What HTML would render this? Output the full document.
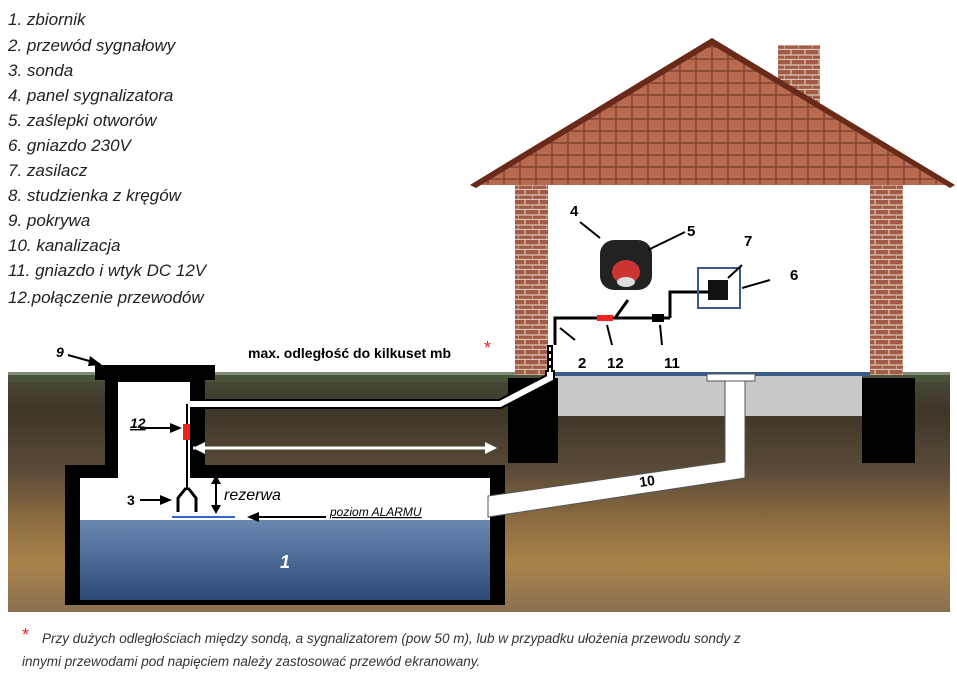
<!DOCTYPE html>
<html><head><meta charset="utf-8"><style>
body{margin:0;width:957px;height:686px;background:#fff;overflow:hidden;position:relative;font-family:"Liberation Sans",sans-serif}
.l{position:absolute;left:8px;font-style:italic;font-size:17px;color:#222}
</style></head><body>
<div class="l" style="top:10px">1. zbiornik</div>
<div class="l" style="top:36px">2. przewód sygnałowy</div>
<div class="l" style="top:61px">3. sonda</div>
<div class="l" style="top:86px">4. panel sygnalizatora</div>
<div class="l" style="top:111px">5. zaślepki otworów</div>
<div class="l" style="top:136px">6. gniazdo 230V</div>
<div class="l" style="top:161px">7. zasilacz</div>
<div class="l" style="top:186px">8. studzienka z kręgów</div>
<div class="l" style="top:211px">9. pokrywa</div>
<div class="l" style="top:236px">10. kanalizacja</div>
<div class="l" style="top:261px">11. gniazdo i wtyk DC 12V</div>
<div class="l" style="top:288px">12.połączenie przewodów</div>
<svg width="957" height="686" style="position:absolute;left:0;top:0">
<defs>
<linearGradient id="g" x1="0" y1="0" x2="0" y2="1">
<stop offset="0" stop-color="#4a4a3a"/><stop offset="0.15" stop-color="#3e3628"/><stop offset="0.4" stop-color="#5a4a38"/><stop offset="0.6" stop-color="#8a6a40"/><stop offset="0.8" stop-color="#a8844a"/><stop offset="1" stop-color="#8a7050"/></linearGradient>
<linearGradient id="w" x1="0" y1="0" x2="0" y2="1"><stop offset="0" stop-color="#6a88b0"/><stop offset="1" stop-color="#2c4a78"/></linearGradient>
<pattern id="br" width="14" height="10" patternUnits="userSpaceOnUse"><rect width="14" height="10" fill="#a45a44"/><path d="M0 9.5H14M7 0V5M0 5H14M0 5V10" stroke="#d8c8b8" stroke-width="1.2"/></pattern>
<pattern id="tl" width="16" height="12" patternUnits="userSpaceOnUse"><rect width="16" height="12" fill="#b86a50"/><path d="M0 11H16M8 0V11" stroke="#7a3a28" stroke-width="1.2"/></pattern>
</defs>
<!-- ground -->
<rect x="8" y="375" width="942" height="237" fill="url(#g)"/>
<rect x="8" y="372" width="942" height="10" fill="#4a5a3a" opacity="0.7"/>
<!-- house -->
<rect x="548" y="185" width="322" height="190" fill="#fff"/>
<rect x="515" y="185" width="33" height="190" fill="url(#br)"/>
<rect x="870" y="185" width="33" height="190" fill="url(#br)"/>
<rect x="548" y="372" width="322" height="4" fill="#3a5a8a"/>
<rect x="548" y="376" width="314" height="40" fill="#c8c8c8"/>
<rect x="778" y="45" width="42" height="60" fill="url(#br)"/>
<polygon points="470,185 712,38 955,185" fill="url(#tl)"/>
<polygon points="470,185 712,38 955,185 950,188 712,45 476,188" fill="#6a2a1a"/>
<rect x="508" y="378" width="50" height="85" fill="#000"/>
<rect x="862" y="378" width="53" height="85" fill="#000"/>
<!-- tank -->
<path d="M95 365H215V380H205V465H505V605H65V465H105V380H95Z" fill="#000"/>
<path d="M118 382H190V478H490V520H80V478H118Z" fill="#fff"/>
<rect x="80" y="520" width="410" height="80" fill="url(#w)"/>
<text x="285" y="568" font-size="18" font-style="italic" font-weight="bold" fill="#fff" text-anchor="middle">1</text>
<!-- pipe to house -->
<path d="M190 404H500L550 378V370" stroke="#000" stroke-width="10" fill="none"/>
<path d="M190 404H500L550 378V370" stroke="#fff" stroke-width="6" fill="none"/>
<path d="M550 372V345" stroke="#000" stroke-width="6"/>
<path d="M550 372V345" stroke="#fff" stroke-width="2" stroke-dasharray="4 3"/>
<!-- sewer pipe -->
<polygon points="488,496 488,517 745,478 745,378 725,378 725,462" fill="#fff" stroke="#555"/>
<rect x="707" y="374" width="48" height="7" fill="#fff" stroke="#555"/>
<text x="640" y="487" font-size="14" font-weight="bold" transform="rotate(-8 640 487)">10</text>
<!-- wire in tank -->
<path d="M187 404V490" stroke="#000" stroke-width="2"/>
<rect x="183" y="424" width="7" height="16" fill="#e22"/>
<path d="M186 488L178 498V512M188 488L196 498V512" stroke="#000" stroke-width="3" fill="none"/>
<path d="M172 517H235" stroke="#36c" stroke-width="2"/>
<!-- arrows -->
<g stroke="#000" stroke-width="2" fill="#000">
<path d="M193 448H495"stroke="#fff" stroke-width="3"/>
<path d="M216 475V512" />
<path d="M68 355L100 364"/><path d="M140 428H178"/><path d="M140 500H168"/><path d="M326 517H250"/>
</g>
<polygon points="193,448 205,442 205,454" fill="#fff"/><polygon points="497,448 485,442 485,454" fill="#fff"/>
<polygon points="216,475 211,484 221,484"/><polygon points="216,514 211,505 221,505"/>
<polygon points="102,365 90,356 88,366"/><polygon points="182,428 170,423 170,433"/><polygon points="172,500 160,495 160,505"/><polygon points="247,517 259,512 259,522"/>
<text x="56" y="357" font-size="14" font-weight="bold" font-style="italic">9</text>
<text x="130" y="428" font-size="14" font-weight="bold" font-style="italic" text-decoration="underline">12</text>
<text x="127" y="505" font-size="14" font-weight="bold">3</text>
<text x="224" y="500" font-size="16" font-style="italic">rezerwa</text>
<text x="330" y="516" font-size="12" font-style="italic" text-decoration="underline">poziom ALARMU</text>
<text x="248" y="358" font-size="14" font-weight="bold">max. odległość do kilkuset mb</text>
<text x="484" y="354" font-size="18" fill="#e22">*</text>
<!-- devices -->
<rect x="600" y="240" width="52" height="50" rx="14" fill="#222"/>
<ellipse cx="626" cy="272" rx="14" ry="12" fill="#c33"/>
<ellipse cx="626" cy="282" rx="9" ry="5" fill="#ddd"/>
<path d="M555 345V318H600L615 318L628 300M615 318L632 318L640 318H670" stroke="#000" stroke-width="3" fill="none"/>
<rect x="597" y="315" width="16" height="6" fill="#e22"/>
<rect x="652" y="314" width="12" height="8" fill="#000"/>
<path d="M670 318V292H710" stroke="#000" stroke-width="3" fill="none"/>
<rect x="698" y="268" width="42" height="40" fill="none" stroke="#3a5a8a" stroke-width="2"/>
<rect x="708" y="280" width="20" height="20" fill="#111"/>
<g stroke="#000" stroke-width="2"><path d="M580 222L600 238"/><path d="M685 232L648 250"/><path d="M770 280L742 288"/><path d="M742 265L728 278"/><path d="M575 340L560 328"/><path d="M612 345L607 325"/><path d="M662 345L660 325"/></g>
<g font-size="15" font-weight="bold">
<text x="570" y="216">4</text><text x="687" y="236">5</text><text x="744" y="246">7</text><text x="790" y="280">6</text>
<text x="578" y="368">2</text><text x="607" y="368">12</text><text x="664" y="368">11</text></g>
<text x="22" y="641" font-size="18" fill="#e22">*</text>
<text x="42" y="643" font-size="13.5" font-style="italic" fill="#333">Przy dużych odległościach między sondą, a sygnalizatorem (pow 50 m), lub w przypadku ułożenia przewodu sondy z</text>
<text x="22" y="666" font-size="13.5" font-style="italic" fill="#333">innymi  przewodami pod napięciem należy zastosować przewód ekranowany.</text>
</svg>
</body></html>
